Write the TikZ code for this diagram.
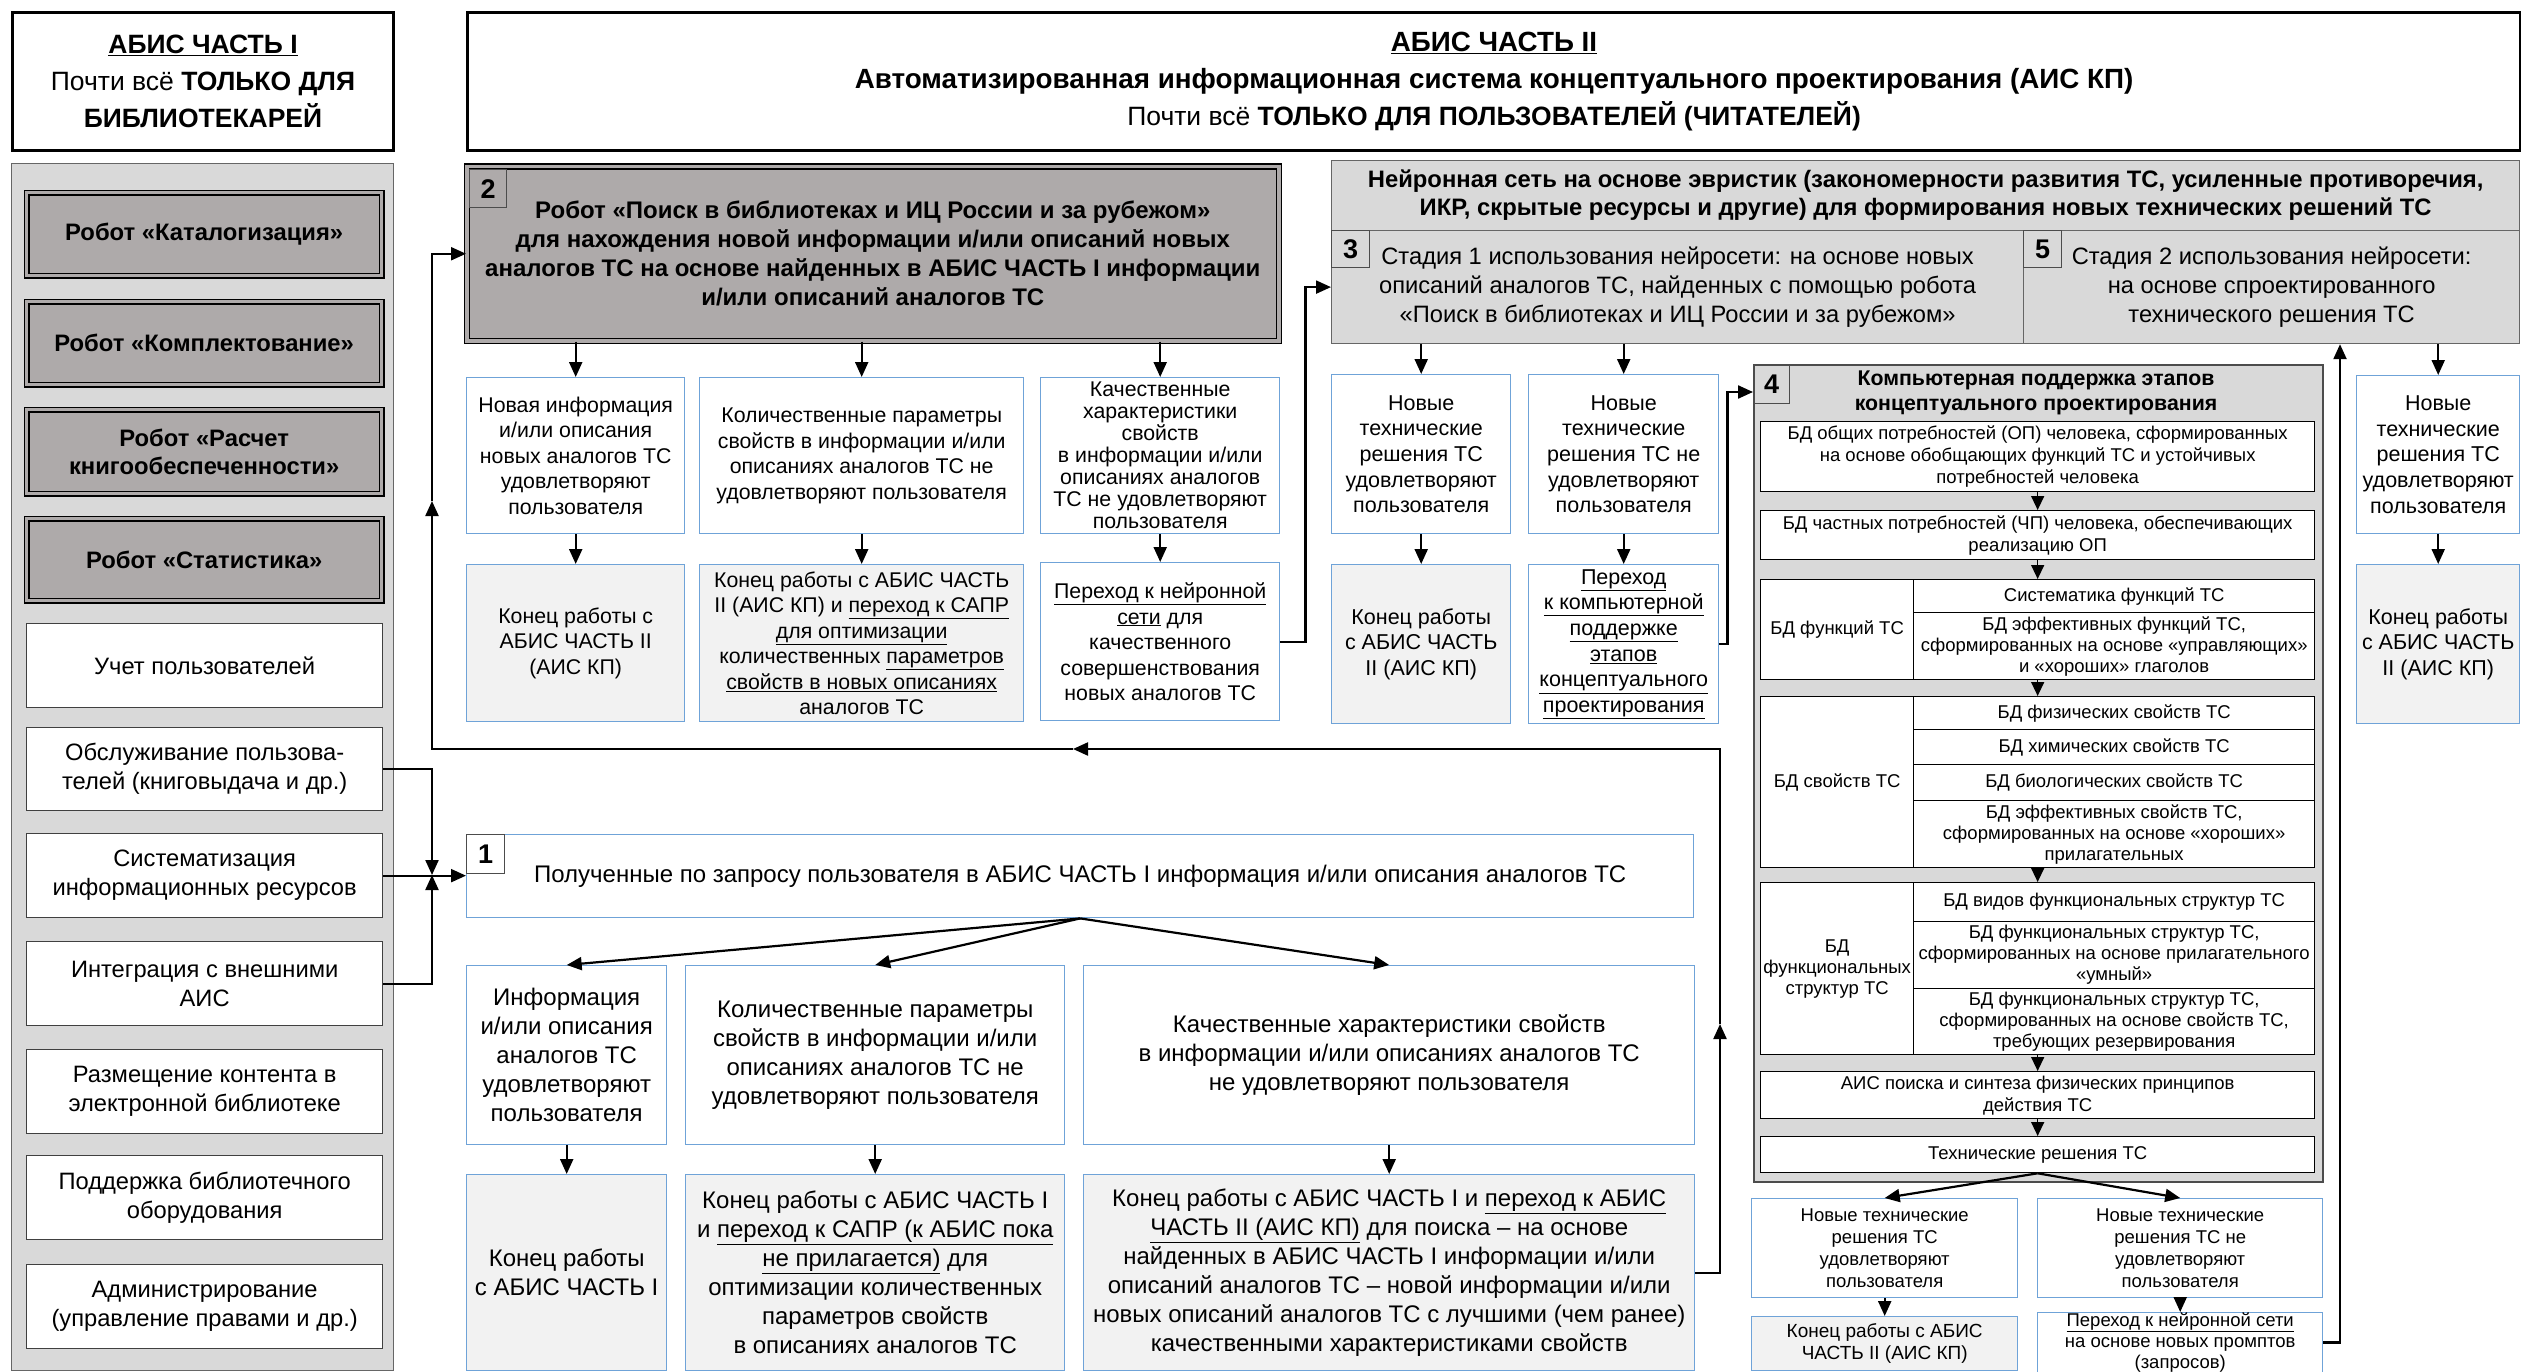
\documentclass[tikz,border=0pt]{standalone}
\usepackage{fontspec}
\setmainfont{Liberation Sans}
\usetikzlibrary{arrows.meta,calc}
\definecolor{panel}{HTML}{D9D9D9}
\definecolor{robot}{HTML}{AEAAAA}
\definecolor{bluebd}{HTML}{6FA3D8}
\definecolor{endfill}{HTML}{F2F2F2}
\newcommand\fs[2]{\fontsize{#1}{#2}\selectfont}
\newcommand\bx[7]{%
  \pgfmathsetmacro\bxw{#5-(#3)}%
  \pgfmathsetmacro\bxh{#6-(#4)}%
  \node[inner sep=2pt,align=center,#2,anchor=north west,minimum width=\bxw pt,minimum height=\bxh pt] (#1) at (#3,#4) {#7};}
\begin{document}
\begin{tikzpicture}[x=1pt,y=-1pt,
  titlebox/.style={draw=black,line width=3pt,fill=white,font=\fs{26.5}{37}},
  panelbox/.style={fill=panel,draw=black!60,line width=1.2pt},
  robotbox/.style={fill=robot,draw=black,line width=1.3pt,double=robot,double distance=3.5pt,font=\fs{23.8}{28.5}\bfseries},
  leftbox/.style={draw=black!75,line width=1.3pt,fill=white,font=\fs{23.7}{29}},
  bluebox/.style={draw=bluebd,line width=1.4pt,fill=white},
  endbox/.style={bluebox,fill=endfill},
  graybox/.style={fill=panel,draw=black!60,line width=1.2pt},
  numbox/.style={draw=black!70,line width=1.2pt,inner sep=0pt,font=\fs{27}{30}\bfseries},
  dbcell/.style={draw=black,line width=1.3pt,fill=white,inner sep=0pt,font=\fs{18.5}{21}},
  smallf/.style={font=\fs{18.5}{22}},
  midf/.style={font=\fs{21.3}{25.5}},
  bigf/.style={font=\fs{24}{29}},
  arr/.style={line width=2.2pt,-{Triangle[length=15pt,width=13pt]}},
  smarr/.style={line width=1.4pt,-{Triangle[length=14pt,width=13pt]}}]
\useasboundingbox (0,0) rectangle (2521,1372);
\fill[white] (0,0) rectangle (2521,1372);

% ---- titles
\bx{t1}{titlebox}{11}{11}{392}{149}{\underline{\textbf{АБИС ЧАСТЬ I}}\\Почти всё \textbf{ТОЛЬКО ДЛЯ}\\\textbf{БИБЛИОТЕКАРЕЙ}}
\bx{t2}{titlebox,font=\fs{27.8}{37}}{466}{11}{2519}{149}{\underline{\textbf{АБИС ЧАСТЬ II}}\\\textbf{Автоматизированная информационная система концептуального проектирования (АИС КП)}\\{\fs{26.5}{37}Почти всё \textbf{ТОЛЬКО ДЛЯ ПОЛЬЗОВАТЕЛЕЙ (ЧИТАТЕЛЕЙ)}}}

% ---- left panel
\bx{lp}{panelbox}{11}{163}{393}{1370}{}
\bx{r1}{robotbox}{26}{192}{381}{275}{Робот «Каталогизация»}
\bx{r2}{robotbox}{26}{301}{381}{384}{Робот «Комплектование»}
\bx{r3}{robotbox}{26}{409}{381}{493}{Робот «Расчет\\книгообеспеченности»}
\bx{r4}{robotbox}{26}{518}{381}{600}{Робот «Статистика»}
\bx{w1}{leftbox}{26}{623}{382}{707}{Учет пользователей}
\bx{w2}{leftbox}{26}{727}{382}{810}{Обслуживание пользова-\\телей (книговыдача и др.)}
\bx{w3}{leftbox}{26}{833}{382}{917}{Систематизация\\информационных ресурсов}
\bx{w4}{leftbox}{26}{941}{382}{1025}{Интеграция с внешними\\АИС}
\bx{w5}{leftbox}{26}{1049}{382}{1133}{Размещение контента в\\электронной библиотеке}
\bx{w6}{leftbox}{26}{1155}{382}{1239}{Поддержка библиотечного\\оборудования}
\bx{w7}{leftbox}{26}{1264}{382}{1348}{Администрирование\\(управление правами и др.)}

% ---- robot search (box 2)
\bx{rp}{robotbox,line width=1.5pt,font=\fs{24}{29}\bfseries}{466}{166}{1278}{340}{Робот «Поиск в библиотеках и ИЦ России и за рубежом»\\для нахождения новой информации и/или описаний новых\\аналогов ТС на основе найденных в АБИС ЧАСТЬ I информации\\и/или описаний аналогов ТС}
\bx{n2}{numbox}{469}{169}{506}{207}{2}

\bx{a1}{bluebox,midf}{466}{377}{684}{533}{Новая информация\\и/или описания\\новых аналогов ТС\\удовлетворяют\\пользователя}
\bx{a2}{bluebox,midf}{699}{377}{1023}{533}{Количественные параметры\\свойств в информации и/или\\описаниях аналогов ТС не\\удовлетворяют пользователя}
\bx{a3}{bluebox,font=\fs{21.3}{22},inner sep=0.5pt}{1040}{377}{1279}{533}{Качественные\\характеристики\\свойств\\в информации и/или\\описаниях аналогов\\ТС не удовлетворяют\\пользователя}
\bx{b1}{endbox,midf}{466}{564}{684}{721}{Конец работы с\\АБИС ЧАСТЬ II\\(АИС КП)}
\bx{b2}{endbox,font=\fs{21.3}{25.5},inner sep=1pt}{699}{564}{1023}{721}{Конец работы с АБИС ЧАСТЬ\\II (АИС КП) и \underline{переход к САПР}\\\underline{для оптимизации}\\количественных \underline{параметров}\\\underline{свойств в новых описаниях}\\аналогов ТС}
\bx{b3}{bluebox,midf}{1040}{562}{1279}{720}{\underline{Переход к нейронной}\\\underline{сети} для\\качественного\\совершенствования\\новых аналогов ТС}

\foreach \k in {1,2,3}{
  \draw[arr] (a\k.north |- rp.south) -- (a\k.north);
  \draw[arr] (a\k.south) -- (b\k.north);
}

% ---- neural network block
\bx{nn}{graybox,font=\fs{23.8}{28}\bfseries}{1331}{160}{2519}{230}{Нейронная сеть на основе эвристик (закономерности развития ТС, усиленные противоречия,\\ИКР, скрытые ресурсы и другие) для формирования новых технических решений ТС}
\bx{s3}{graybox,font=\fs{23.7}{29}}{1331}{230}{2023}{343}{Стадия 1 использования нейросети: на основе новых\\описаний аналогов ТС, найденных с помощью робота\\«Поиск в библиотеках и ИЦ России и за рубежом»}
\bx{s5}{graybox,font=\fs{23.7}{29}}{2023}{230}{2519}{343}{Стадия 2 использования нейросети:\\на основе спроектированного\\технического решения ТС}
\bx{n3}{numbox}{1331}{230}{1369}{267}{3}
\bx{n5}{numbox}{2023}{230}{2061}{267}{5}

\bx{c1}{bluebox,font=\fs{21.5}{25.7}}{1331}{374}{1510}{533}{Новые\\технические\\решения ТС\\удовлетворяют\\пользователя}
\bx{c2}{bluebox,font=\fs{21.5}{25.7}}{1528}{374}{1718}{533}{Новые\\технические\\решения ТС не\\удовлетворяют\\пользователя}
\bx{d1}{endbox,font=\fs{21.5}{25.7}}{1331}{564}{1510}{723}{Конец работы\\с АБИС ЧАСТЬ\\II (АИС КП)}
\bx{d2}{bluebox,font=\fs{21.5}{25.7},inner sep=1pt}{1528}{564}{1718}{723}{\underline{Переход}\\\underline{к компьютерной}\\\underline{поддержке}\\\underline{этапов}\\\underline{концептуального}\\\underline{проектирования}}
\bx{h1}{bluebox,font=\fs{21.5}{25.7}}{2356}{375}{2519}{533}{Новые\\технические\\решения ТС\\удовлетворяют\\пользователя}
\bx{h2}{endbox,font=\fs{21.5}{25.7}}{2356}{564}{2519}{723}{Конец работы\\с АБИС ЧАСТЬ\\II (АИС КП)}

\foreach \k in {1,2}{
  \draw[arr] (c\k.north |- s3.south) -- (c\k.north);
}
\draw[arr] (c1.south) -- (d1.north);
\draw[arr] (c2.south) -- (d2.north);
\draw[arr] (h1.north |- s5.south) -- (h1.north);
\draw[arr] (h1.south) -- (h2.north);
\draw[arr] (b3.east) -- ++(25,0) |- (s3.west);

% ---- box 4
\bx{b4}{graybox,draw=black!70,line width=1.5pt}{1753}{364}{2322}{1181}{}
\bx{n4}{numbox}{1753}{364}{1789}{403}{4}
\node[font=\fs{21.3}{25}\bfseries,align=center] (b4t) at (2036,393) {Компьютерная поддержка этапов\\концептуального проектирования};
\bx{e1}{dbcell,inner sep=1pt,font=\fs{18.5}{22}}{1760}{421}{2314}{491}{БД общих потребностей (ОП) человека, сформированных\\на основе обобщающих функций ТС и устойчивых\\потребностей человека}
\bx{e2}{dbcell,font=\fs{18.5}{22}}{1760}{510}{2314}{559}{БД частных потребностей (ЧП) человека, обеспечивающих\\реализацию ОП}
\bx{e3l}{dbcell}{1760}{579}{1913}{679}{БД функций ТС}
\bx{e3a}{dbcell}{1913}{579}{2314}{612}{Систематика функций ТС}
\bx{e3b}{dbcell}{1913}{612}{2314}{679}{БД эффективных функций ТС,\\сформированных на основе «управляющих»\\и «хороших» глаголов}
\bx{e4l}{dbcell}{1760}{696}{1913}{867}{БД свойств ТС}
\bx{e4a}{dbcell}{1913}{696}{2314}{729}{БД физических свойств ТС}
\bx{e4b}{dbcell}{1913}{729}{2314}{764}{БД химических свойств ТС}
\bx{e4c}{dbcell}{1913}{764}{2314}{800}{БД биологических свойств ТС}
\bx{e4d}{dbcell}{1913}{800}{2314}{867}{БД эффективных свойств ТС,\\сформированных на основе «хороших»\\прилагательных}
\bx{e5l}{dbcell}{1760}{882}{1913}{1054}{БД\\функциональных\\структур ТС}
\bx{e5a}{dbcell}{1913}{882}{2314}{921}{БД видов функциональных структур ТС}
\bx{e5b}{dbcell}{1913}{921}{2314}{988}{БД функциональных структур ТС,\\сформированных на основе прилагательного\\«умный»}
\bx{e5c}{dbcell}{1913}{988}{2314}{1054}{БД функциональных структур ТС,\\сформированных на основе свойств ТС,\\требующих резервирования}
\bx{e6}{dbcell,font=\fs{18.5}{22}}{1760}{1071}{2314}{1118}{АИС поиска и синтеза физических принципов\\действия ТС}
\bx{e7}{dbcell}{1760}{1136}{2314}{1172}{Технические решения ТС}

\draw[smarr] (e1.south) -- (e2.north);
\draw[smarr] (e2.south) -- (e1.south |- e3a.north);
\draw[smarr] (e1.south |- e3b.south) -- (e1.south |- e4a.north);
\draw[smarr] (e1.south |- e4d.south) -- (e1.south |- e5a.north);
\draw[smarr] (e1.south |- e5c.south) -- (e6.north);
\draw[smarr] (e6.south) -- (e7.north);

\bx{f1}{bluebox,smallf}{1751}{1198}{2017}{1297}{Новые технические\\решения ТС\\удовлетворяют\\пользователя}
\bx{f2}{bluebox,smallf}{2037}{1198}{2322}{1297}{Новые технические\\решения ТС не\\удовлетворяют\\пользователя}
\bx{g1}{endbox,font=\fs{19}{22}}{1751}{1316}{2017}{1370}{Конец работы с АБИС\\ЧАСТЬ II (АИС КП)}
\bx{g2}{bluebox,font=\fs{18.5}{21},inner sep=0pt}{2037}{1312}{2322}{1370}{\underline{Переход к нейронной сети}\\на основе новых промптов\\(запросов)}
\draw[arr] (e7.south) -- (f1.north);
\draw[arr] (e7.south) -- (f2.north);
\draw[arr] (f1.south) -- (g1.north);
\draw[arr] (f2.south) -- (g2.north);
\draw[arr] (d2.east) -- ++(8,0) |- ($(b4.north west)+(0,28)$);
\draw[arr] (g2.east) -| ($(s5.south west)+(317,0)$);

% ---- box 1 and lower rows
\bx{q1}{bluebox,bigf}{466}{834}{1693}{917}{Полученные по запросу пользователя в АБИС ЧАСТЬ I информация и/или описания аналогов ТС}
\bx{n1}{numbox}{466}{834}{504}{873}{1}
\bx{i1}{bluebox,bigf}{466}{965}{666}{1144}{Информация\\и/или описания\\аналогов ТС\\удовлетворяют\\пользователя}
\bx{i2}{bluebox,bigf}{685}{965}{1064}{1144}{Количественные параметры\\свойств в информации и/или\\описаниях аналогов ТС не\\удовлетворяют пользователя}
\bx{i3}{bluebox,bigf}{1083}{965}{1694}{1144}{Качественные характеристики свойств\\в информации и/или описаниях аналогов ТС\\не удовлетворяют пользователя}
\bx{j1}{endbox,bigf}{466}{1174}{666}{1370}{Конец работы\\с АБИС ЧАСТЬ I}
\bx{j2}{endbox,bigf}{685}{1174}{1064}{1370}{Конец работы с АБИС ЧАСТЬ I\\и \underline{переход к САПР (к АБИС пока}\\\underline{не прилагается)} для\\оптимизации количественных\\параметров свойств\\в описаниях аналогов ТС}
\bx{j3}{endbox,bigf}{1083}{1174}{1694}{1370}{Конец работы с АБИС ЧАСТЬ I и \underline{переход к АБИС}\\\underline{ЧАСТЬ II (АИС КП)} для поиска – на основе\\найденных в АБИС ЧАСТЬ I информации и/или\\описаний аналогов ТС – новой информации и/или\\новых описаний аналогов ТС с лучшими (чем ранее)\\качественными характеристиками свойств}
\foreach \k in {1,2,3}{
  \draw[arr] (q1.south) -- (i\k.north);
  \draw[arr] (i\k.south) -- (j\k.north);
}

% ---- left connectors
\coordinate (jn) at (432,875);
\draw[arr] (w2.east) -| (jn);
\draw[arr] (w4.east) -| (jn);
\draw[arr] (w3.east) -- (w3.east -| q1.west);

% ---- feedback loop
\coordinate (fb1) at (1720,1024);
\coordinate (fb2) at (1720,749);
\coordinate (fb3) at (1073,749);
\coordinate (fb4) at (432,749);
\coordinate (fb5) at (432,501);
\draw[arr] (j3.east) -| (fb1);
\draw[arr] (fb1) -- (fb2) -- (fb3);
\draw[arr] (fb3) -- (fb4) -- (fb5);
\draw[arr] (fb5) |- (rp.west);
\end{tikzpicture}
\end{document}
